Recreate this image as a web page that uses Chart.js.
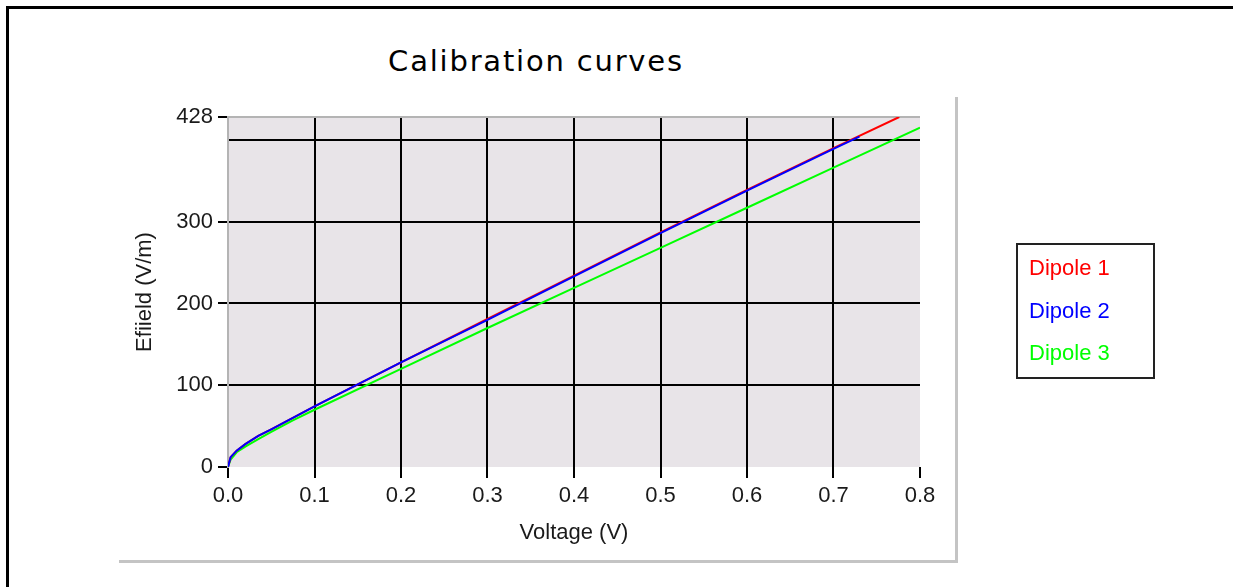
<!DOCTYPE html>
<html>
<head>
<meta charset="utf-8">
<script src="https://cdn.jsdelivr.net/npm/chart.js@4/dist/chart.umd.min.js"></script>
<style>
  body { margin:0; background:#fff; width:1233px; height:587px; overflow:hidden; position:relative; font-family:"Liberation Sans", Arial, sans-serif; }
  #frame { position:absolute; left:6px; top:6px; width:1260px; height:620px; border:3px solid #000; }
  #panel { position:absolute; left:119px; top:97px; width:836px; height:463px; border-right:3px solid #c4c4c4; border-bottom:3px solid #c4c4c4; }
  #title { position:absolute; left:0; width:1072px; top:44px; text-align:center; font-family:"DejaVu Sans", sans-serif; font-size:29px; letter-spacing:1.8px; color:#000; }
  #c { position:absolute; left:0; top:0; }
  #legend { position:absolute; left:1016px; top:243px; width:135px; height:132px; border:2px solid #222; }
  #legend div { position:absolute; left:11px; font-size:22px; line-height:26px; }
</style>
</head>
<body>
<div id="frame"></div>
<div id="panel"></div>
<div id="title">Calibration curves</div>
<canvas id="c" width="1233" height="587"></canvas>
<div id="legend"></div>
<script>
// values
const seriesNames = ['Dipole 1', 'Dipole 2', 'Dipole 3'];
const seriesColors = ['#ff0000', '#0000ff', '#00ff00'];
const voltage1 = [0, 0.003, 0.01, 0.02, 0.035, 0.05, 0.075, 0.1, 0.2, 0.3, 0.4, 0.5, 0.6, 0.7, 0.776];
const efield1  = [0, 12, 20, 28, 38, 46, 60, 74, 128, 181, 234, 287, 339, 390, 428];
const voltage2 = [0, 0.003, 0.01, 0.02, 0.035, 0.05, 0.075, 0.1, 0.2, 0.3, 0.4, 0.5, 0.6, 0.7, 0.73];
const efield2  = [0, 12, 20, 28, 38, 46, 60, 74, 128, 180, 233, 286, 338, 389, 404];
const voltage3 = [0, 0.003, 0.01, 0.02, 0.035, 0.05, 0.075, 0.1, 0.2, 0.3, 0.4, 0.5, 0.6, 0.7, 0.8];
const efield3  = [0, 9, 18, 25, 34, 43, 57, 70, 120, 170, 219, 268, 317, 366, 415];
const yTicks = [0, 100, 200, 300, 400, 428];
const yMax = 428, xMax = 0.8;

const pts = (xs, ys) => xs.map((x, i) => ({ x: x, y: ys[i] }));
const series = [pts(voltage1, efield1), pts(voltage2, efield2), pts(voltage3, efield3)];
const drawOrder = [1, 0, 2]; // blue sits over red

const plotBg = {
  id: 'plotBg',
  beforeDraw(c) {
    const { ctx, chartArea: a } = c;
    ctx.save(); ctx.fillStyle = '#e8e4e8';
    ctx.fillRect(a.left, a.top, a.right - a.left, a.bottom - a.top);
    ctx.restore();
  }
};

const tickFont = { family: '"Liberation Sans", Arial, sans-serif', size: 22 };
const chart = new Chart(document.getElementById('c'), {
  type: 'line',
  data: {
    datasets: series.map((d, i) => ({
      label: seriesNames[i], data: d, borderColor: seriesColors[i], backgroundColor: seriesColors[i],
      borderWidth: 2, pointRadius: 0, tension: 0, fill: false, order: drawOrder[i]
    }))
  },
  options: {
    responsive: false, animation: false, devicePixelRatio: 1,
    layout: { padding: { left: 0, right: 313, top: 117, bottom: 0 } },
    plugins: { legend: { display: false }, tooltip: { enabled: false }, title: { display: false } },
    scales: {
      x: {
        type: 'linear', min: 0, max: xMax,
        afterFit: s => { s.height = 120; },
        ticks: { stepSize: 0.1, color: '#1a1a1a', font: tickFont, padding: 5, maxRotation: 0,
          callback: v => v.toFixed(1) },
        grid: {
          color: ctx => (ctx.tick && (ctx.tick.value < 0.001 || ctx.tick.value > xMax - 0.001)) ? 'rgba(0,0,0,0)' : '#000',
          lineWidth: 2, tickColor: '#000', tickWidth: 2, tickLength: 11
        },
        border: { display: false },
        title: { display: true, text: 'Voltage (V)', color: '#1a1a1a', font: tickFont, padding: { top: 0, bottom: 41 } }
      },
      y: {
        type: 'linear', min: 0, max: yMax,
        afterFit: s => { s.width = 228; },
        afterBuildTicks: s => { s.ticks = yTicks.map(v => ({ value: v })); },
        ticks: { color: '#1a1a1a', font: tickFont, padding: 5, callback: v => v === 400 ? '' : v },
        grid: {
          color: ctx => {
            const v = ctx.tick ? ctx.tick.value : -1;
            if (v === 0) return 'rgba(0,0,0,0)';
            if (v === yMax) return '#b4b4b4';
            return '#000';
          },
          lineWidth: 2, tickWidth: 2, tickLength: 10,
          tickColor: ctx => (ctx.tick && ctx.tick.value === 400) ? 'rgba(0,0,0,0)' : '#000'
        },
        border: { display: true, color: '#b4b4b4', width: 2 },
        title: { display: true, text: 'Efiield (V/m)', color: '#1a1a1a', font: tickFont, padding: { top: 132, bottom: 0 } }
      }
    }
  },
  plugins: [plotBg]
});

// legend box, one coloured label per dataset
const lg = document.getElementById('legend');
chart.data.datasets.forEach((ds, i) => {
  const d = document.createElement('div');
  d.textContent = ds.label; d.style.color = ds.borderColor; d.style.top = (10 + i * 42.5) + 'px';
  lg.appendChild(d);
});
</script>
</body>
</html>
